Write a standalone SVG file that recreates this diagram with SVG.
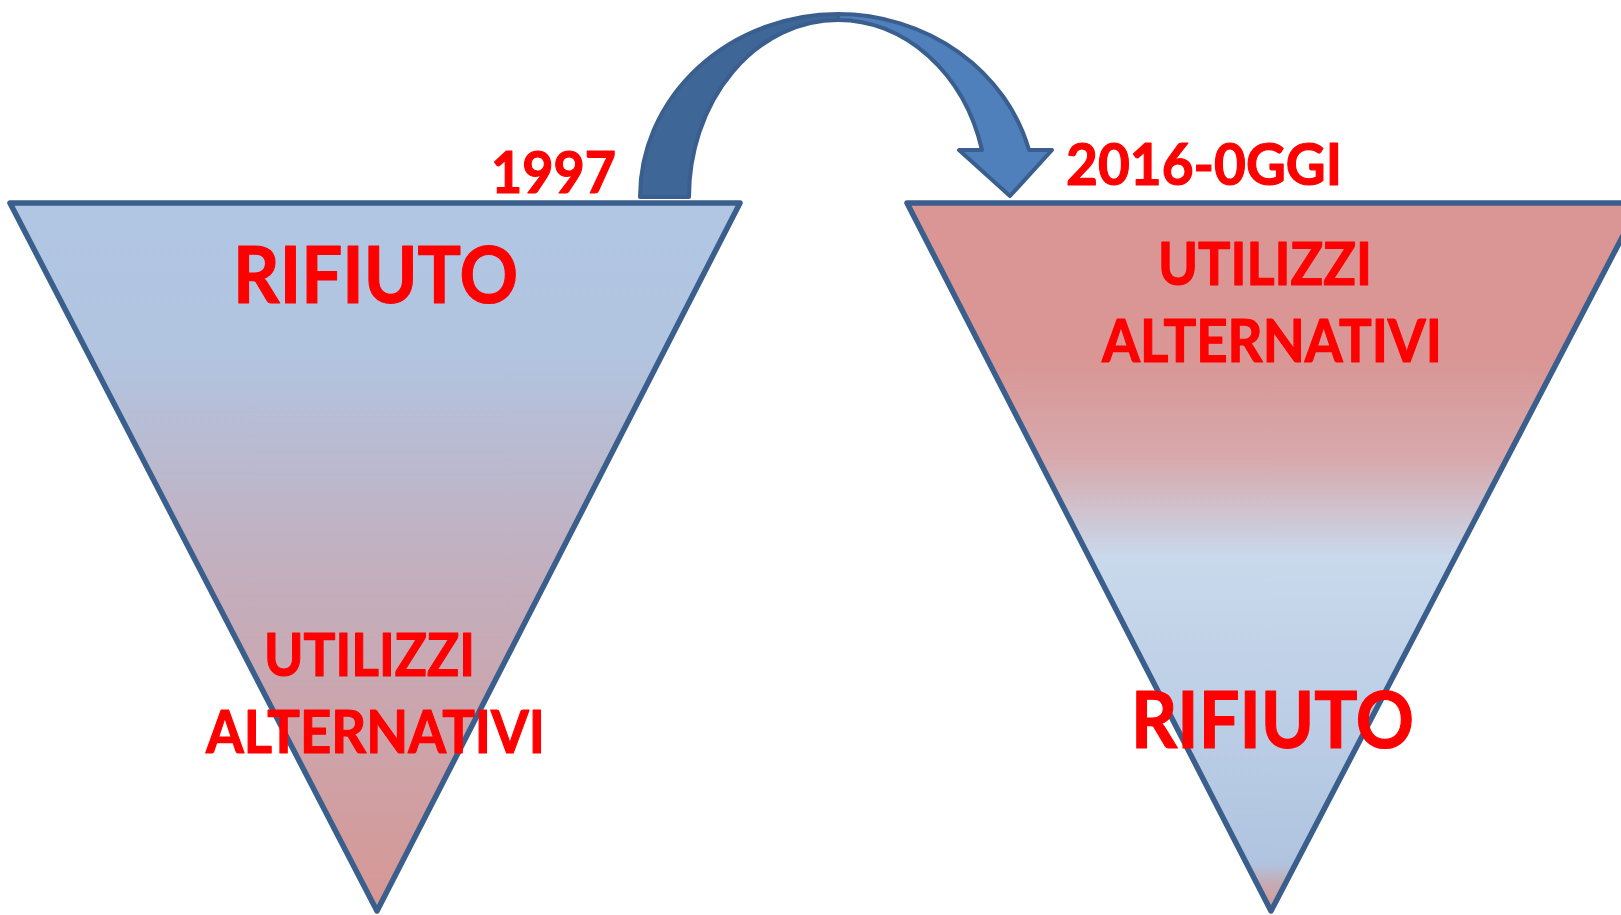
<svg xmlns="http://www.w3.org/2000/svg" width="1621" height="915" viewBox="0 0 1621 915">
<style>
.tri{stroke:#3b5f8d;stroke-width:5.5;stroke-linejoin:round}
.arr{stroke:#3a5f8e;stroke-width:4;stroke-linejoin:round}
.lbl{font-family:"Lato","Liberation Sans",sans-serif;font-weight:700;fill:#ff0000;stroke:#ff0000;stroke-width:1.2;stroke-linejoin:round}
</style>
<defs>
<linearGradient id="gL" gradientUnits="userSpaceOnUse" x1="0" y1="203" x2="0" y2="913">
<stop offset="0" stop-color="#b1c6e2"/>
<stop offset="0.2" stop-color="#b1c5e1"/>
<stop offset="0.5" stop-color="#c2b0c0"/>
<stop offset="1" stop-color="#d79794"/>
</linearGradient>
<linearGradient id="gR" gradientUnits="userSpaceOnUse" x1="0" y1="203" x2="0" y2="913">
<stop offset="0" stop-color="#d99694"/>
<stop offset="0.22" stop-color="#d99694"/>
<stop offset="0.36" stop-color="#d7a9ad"/>
<stop offset="0.5" stop-color="#c9d9ec"/>
<stop offset="0.93" stop-color="#b0c4e0"/>
<stop offset="0.96" stop-color="#c7aab3"/>
<stop offset="1" stop-color="#d79894"/>
</linearGradient>
</defs>
<g id="left-triangle">
<polygon class="tri" points="10,203 740,203 377,911" fill="url(#gL)"/>
<text class="lbl" x="233" y="303" font-size="79" textLength="285" lengthAdjust="spacingAndGlyphs">RIFIUTO</text>
<text class="lbl" x="264" y="676" font-size="60" textLength="211" lengthAdjust="spacingAndGlyphs">UTILIZZI</text>
<text class="lbl" x="206" y="753" font-size="60" textLength="339" lengthAdjust="spacingAndGlyphs">ALTERNATIVI</text>
</g>
<g id="right-triangle">
<polygon class="tri" points="907,203 1640,203 1271,911" fill="url(#gR)"/>
<text class="lbl" x="1158" y="285" font-size="60" textLength="214" lengthAdjust="spacingAndGlyphs">UTILIZZI</text>
<text class="lbl" x="1102" y="362" font-size="60" textLength="340" lengthAdjust="spacingAndGlyphs">ALTERNATIVI</text>
<text class="lbl" x="1131" y="748" font-size="79" textLength="283" lengthAdjust="spacingAndGlyphs">RIFIUTO</text>
</g>
<g id="label-1997">
<text class="lbl" x="491" y="193" font-size="58" textLength="125" lengthAdjust="spacingAndGlyphs">1997</text>
</g>
<g id="label-2016">
<text class="lbl" x="1066" y="185" font-size="58" textLength="276" lengthAdjust="spacingAndGlyphs">2016-0GGI</text>
</g>
<g id="connectors">
<path class="arr" fill="#3e6696" d="M640,197 A198,183 0 0 1 838,14 L838,20 A149,177 0 0 0 689,197 Z"/>
<path class="arr" fill="#4f80bc" d="M838,14 A198,183 0 0 1 1029,150 L1052,150 L1010,196 L959,150 L982,150 A149,177 0 0 0 838,20 Z"/>
</g>
</svg>
